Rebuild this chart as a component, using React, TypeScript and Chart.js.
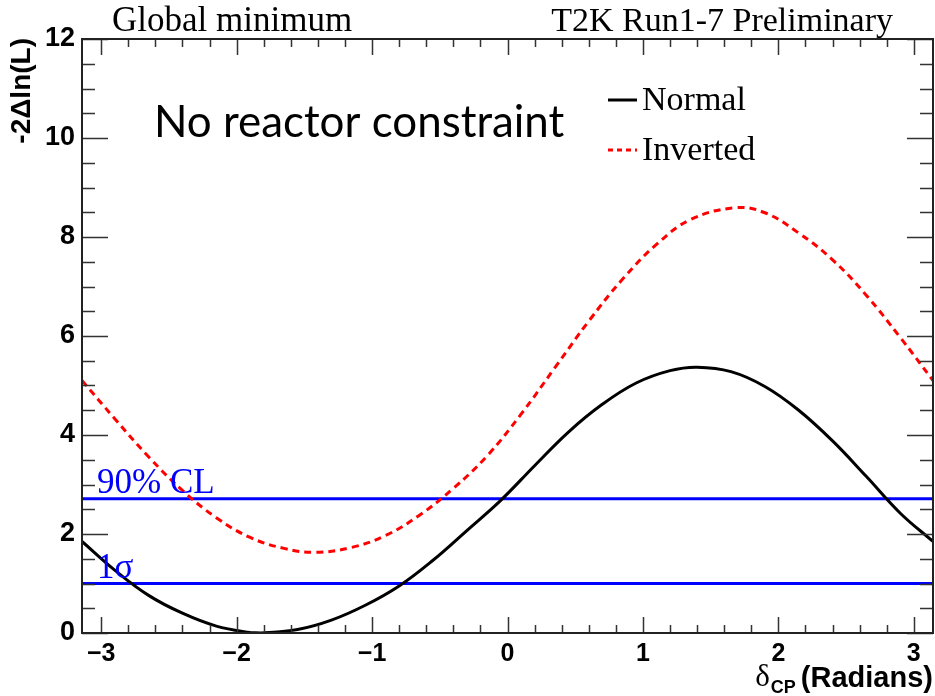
import React, { useEffect, useRef } from 'react';
import { Chart, registerables } from 'chart.js';

Chart.register(...registerables);

// Normal hierarchy: δCP (radians) and -2Δln(L)
const normalX = [-3.1416, -2.9, -2.65, -2.4, -2.15, -1.9, -1.82, -1.55, -1.3, -1.05, -0.8, -0.55, -0.3, -0.05, 0.2, 0.45, 0.7, 0.95, 1.2, 1.4, 1.65, 1.9, 2.15, 2.4, 2.65, 2.9, 3.1416];
const normalValues = [1.85, 1.27, 0.76, 0.40, 0.14, 0.01, 0.0, 0.07, 0.26, 0.56, 0.95, 1.47, 2.07, 2.68, 3.38, 4.06, 4.62, 5.05, 5.30, 5.37, 5.28, 4.98, 4.50, 3.88, 3.16, 2.42, 1.85];
// Inverted hierarchy: δCP (radians) and -2Δln(L)
const invertedX = [-3.1416, -2.9, -2.65, -2.4, -2.15, -1.9, -1.65, -1.42, -1.15, -0.9, -0.65, -0.4, -0.15, 0.1, 0.35, 0.6, 0.85, 1.1, 1.35, 1.68, 1.9, 2.15, 2.4, 2.65, 2.9, 3.1416];
const invertedValues = [5.10, 4.33, 3.56, 2.88, 2.33, 1.93, 1.71, 1.63, 1.73, 1.97, 2.38, 2.92, 3.58, 4.42, 5.36, 6.30, 7.15, 7.85, 8.35, 8.59, 8.49, 8.08, 7.54, 6.82, 5.97, 5.10];
// Confidence levels
const clLevels = [2.71, 1.0];
const clLabels = ['90% CL', '1σ'];
const seriesNames = ['Normal', 'Inverted'];
const xTickValues = [-3, -2, -1, 0, 1, 2, 3];

const SERIF = '"Liberation Serif", "Times New Roman", serif';
const SANS = '"Liberation Sans", Arial, sans-serif';

const rootStyle = {
  id: 'rootStyle',
  afterDraw(chart: any) {
    const { ctx, chartArea: a, scales } = chart;
    const x = scales.x;
    const y = scales.y;
    ctx.save();

    // inward ticks on all four sides
    ctx.strokeStyle = '#333';
    ctx.lineWidth = 1.5;
    ctx.beginPath();
    for (let i = -16; i <= 16; i++) {
      const v = i * 0.2;
      if (v < x.min || v > x.max) continue;
      const px = Math.round(x.getPixelForValue(v)) + 0.5;
      const L = i % 5 === 0 ? 16 : 8;
      ctx.moveTo(px, a.bottom);
      ctx.lineTo(px, a.bottom - L);
      ctx.moveTo(px, a.top);
      ctx.lineTo(px, a.top + L);
    }
    for (let i = 0; i <= 24; i++) {
      const v = i * 0.5;
      const py = Math.round(y.getPixelForValue(v)) + 0.5;
      const L = i % 4 === 0 ? 26 : 13;
      ctx.moveTo(a.left, py);
      ctx.lineTo(a.left + L, py);
      ctx.moveTo(a.right, py);
      ctx.lineTo(a.right - L, py);
    }
    ctx.stroke();

    // frame
    ctx.lineWidth = 2;
    ctx.strokeStyle = '#222';
    ctx.strokeRect(a.left, a.top, a.right - a.left, a.bottom - a.top);

    // header texts
    ctx.fillStyle = '#000';
    ctx.textBaseline = 'alphabetic';
    ctx.font = `35px ${SERIF}`;
    ctx.textAlign = 'left';
    ctx.fillText('Global minimum', 112, 31);
    ctx.font = `34px ${SERIF}`;
    ctx.textAlign = 'right';
    ctx.fillText('T2K Run1-7 Preliminary', 893, 31);

    // legend
    ctx.lineWidth = 3;
    ctx.strokeStyle = '#000';
    ctx.setLineDash([]);
    ctx.beginPath();
    ctx.moveTo(608, 100);
    ctx.lineTo(637, 100);
    ctx.stroke();
    ctx.strokeStyle = '#ff0000';
    ctx.setLineDash([5, 4]);
    ctx.beginPath();
    ctx.moveTo(608, 150);
    ctx.lineTo(637, 150);
    ctx.stroke();
    ctx.setLineDash([]);
    ctx.textAlign = 'left';
    ctx.font = `34px ${SERIF}`;
    ctx.fillText(seriesNames[0], 642, 110);
    ctx.fillText(seriesNames[1], 642, 160);

    // annotation
    const note = 'No reactor constraint';
    ctx.font = `40px Lato, ${SANS}`;
    const w = ctx.measureText(note).width;
    const fs = 40 * 410 / w;
    ctx.font = `${fs.toFixed(1)}px Lato, ${SANS}`;
    ctx.fillText(note, 154, 137);

    // CL labels
    ctx.fillStyle = '#0000ff';
    ctx.font = `35px ${SERIF}`;
    clLevels.forEach((lv, i) => {
      ctx.fillText(clLabels[i], 97, y.getPixelForValue(lv) - 6);
    });

    // axis titles
    ctx.fillStyle = '#000';
    ctx.save();
    ctx.translate(22, a.top - 1);
    ctx.rotate(-Math.PI / 2);
    ctx.textAlign = 'right';
    ctx.textBaseline = 'middle';
    ctx.font = `bold 28px ${SANS}`;
    ctx.fillText('-2Δln(L)', 0, 0);
    ctx.restore();

    ctx.textAlign = 'right';
    ctx.textBaseline = 'alphabetic';
    ctx.font = `bold 29px ${SANS}`;
    const rad = '(Radians)';
    ctx.fillText(rad, a.right, 687);
    const rw = ctx.measureText(rad).width;
    ctx.font = `bold 18px ${SANS}`;
    ctx.fillText('CP', a.right - rw - 5, 693);
    const cw = ctx.measureText('CP').width;
    ctx.font = `31px ${SERIF}`;
    ctx.fillText('δ', a.right - rw - 5 - cw - 1, 686);

    ctx.restore();
  },
};

export default function App() {
  const ref = useRef<HTMLCanvasElement>(null);
  useEffect(() => {
    const toPts = (xs: number[], vals: number[]) => xs.map((xv, i) => ({ x: xv, y: vals[i] }));
    const xmin = -Math.PI;
    const xmax = Math.PI;
    const chart = new Chart(ref.current as HTMLCanvasElement, {
      type: 'line',
      data: {
        datasets: [
          {
            label: seriesNames[0],
            data: toPts(normalX, normalValues),
            borderColor: '#000000',
            borderWidth: 3,
            pointRadius: 0,
            tension: 0.4,
            fill: false,
          },
          {
            label: seriesNames[1],
            data: toPts(invertedX, invertedValues),
            borderColor: '#ff0000',
            borderWidth: 3,
            borderDash: [7, 5],
            pointRadius: 0,
            tension: 0.4,
            fill: false,
          },
          ...clLevels.map((lv, i) => ({
            label: clLabels[i],
            data: [{ x: xmin, y: lv }, { x: xmax, y: lv }],
            borderColor: '#0000ff',
            borderWidth: 3,
            pointRadius: 0,
            fill: false,
          })),
        ],
      },
      options: {
        animation: false,
        responsive: false,
        devicePixelRatio: 1,
        layout: { padding: { top: 39, right: 2, left: 0, bottom: 0 } },
        plugins: { legend: { display: false }, tooltip: { enabled: false } },
        scales: {
          x: {
            type: 'linear',
            min: xmin,
            max: xmax,
            afterBuildTicks: (scale: any) => {
              scale.ticks = xTickValues.map((v) => ({ value: v }));
            },
            afterFit: (scale: any) => {
              scale.height = 63;
            },
            grid: { display: false, drawTicks: false },
            border: { display: false },
            ticks: {
              padding: 6,
              color: '#000',
              font: { family: SANS, size: 25, weight: 'bold' },
              maxRotation: 0,
              autoSkip: false,
              callback: (v: any) => (v < 0 ? '\u2212' + Math.abs(v) : String(v)),
            },
          },
          y: {
            type: 'linear',
            min: 0,
            max: 12,
            afterFit: (scale: any) => {
              scale.width = 82;
            },
            grid: { display: false, drawTicks: false },
            border: { display: false },
            ticks: {
              stepSize: 2,
              padding: 7,
              color: '#000',
              font: { family: SANS, size: 27, weight: 'bold' },
            },
          },
        },
      },
      plugins: [rootStyle],
    } as any);
    return () => chart.destroy();
  }, []);
  return (
    <div style={{ position: 'absolute', left: 0, top: 0, width: 935, height: 696, background: '#fff' }}>
      <canvas ref={ref} width={935} height={696} style={{ display: 'block' }} />
    </div>
  );
}
